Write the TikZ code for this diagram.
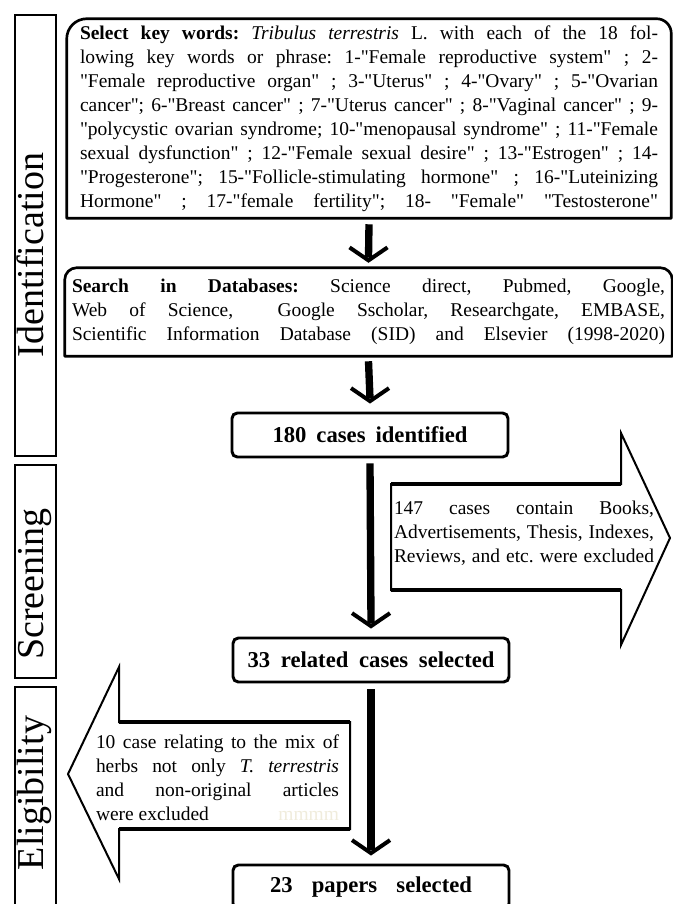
\documentclass[tikz,border=0pt]{standalone}
\usepackage{fontspec}
\setmainfont{Liberation Serif}[Ligatures=TeXOff]
\usetikzlibrary{calc}
\definecolor{faint}{RGB}{240,236,220}
\newcommand\mydownhead[2]{%
  \draw[vhead] ([shift={(-14.25pt,#2+9.75pt)}]#1) -- ([yshift=#2]#1) -- ([shift={(14.25pt,#2+9.75pt)}]#1);}
\begin{document}
\frenchspacing
\begin{tikzpicture}[x=0.75pt,y=-0.75pt,
  boxline/.style={line width=2pt, line join=round},
  sidebox/.style={draw, line width=1.5pt, anchor=north west, inner sep=0pt, minimum width=30.75pt},
  sidelabel/.style={rotate=90, anchor=base, font=\fontsize{28.5}{30}\selectfont, inner sep=0pt},
  body/.style={font=\fontsize{14.6}{18}\selectfont, inner sep=0pt, align=center},
  smallbox/.style={draw, line width=2.2pt, rounded corners=4pt, minimum width=207pt, minimum height=33pt, inner sep=0pt, font=\bfseries\fontsize{17}{20}\selectfont},
  shaft/.style={line width=5.5pt},
  vhead/.style={line width=3pt, line join=miter, line cap=butt},
  blockarrow/.style={line width=1.5pt, line join=miter},
  blockedge/.style={line width=3pt, line cap=butt},
]
\useasboundingbox (0,0) rectangle (673,904);

% side phase boxes
\node[sidebox, minimum height=330.75pt] (sid) at (14,14) {};
\node[sidebox, minimum height=159.75pt] (sscr) at (14,464) {};
\node[sidebox, minimum height=180pt] (selig) at (14,686) {};
\node[sidelabel] (lid) at (43,255) {Identification};
\node[sidelabel] (lscr) at (43,584) {Screening};
\node[sidelabel] (lelig) at (43,793) {Eligibility};

% box 1
\node[body, minimum width=453pt, minimum height=149.25pt] (b1) at (369,118.5) {%
\makebox[433.5pt][s]{\textbf{Select key words:} \textit{Tribulus terrestris} L. with each of the 18 fol-}\\
\makebox[433.5pt][s]{lowing key words or phrase: 1-"Female reproductive system" ; 2-}\\
\makebox[433.5pt][s]{"Female reproductive organ" ; 3-"Uterus" ; 4-"Ovary" ; 5-"Ovarian}\\
\makebox[433.5pt][s]{cancer"; 6-"Breast cancer" ; 7-"Uterus cancer" ; 8-"Vaginal cancer" ; 9-}\\
\makebox[433.5pt][s]{"polycystic ovarian syndrome; 10-"menopausal syndrome" ; 11-"Female}\\
\makebox[433.5pt][s]{sexual dysfunction" ; 12-"Female sexual desire" ; 13-"Estrogen" ; 14-}\\
\makebox[433.5pt][s]{"Progesterone"; 15-"Follicle-stimulating hormone" ; 16-"Luteinizing}\\
\makebox[433.5pt][s]{Hormone" ; 17-"female fertility"; 18- "Female" "Testosterone"}};
\draw[boxline] (b1.south west) -- ([yshift=-15pt]b1.north west)
  arc[start angle=180, end angle=90, radius=15pt] -- ([xshift=-11pt]b1.north east)
  arc[start angle=90, end angle=0, radius=11pt] -- (b1.south east) -- cycle;

% box 2
\node[body, minimum width=455.25pt, minimum height=66pt] (b2) at (368.5,312) {%
\makebox[444.75pt][s]{\textbf{Search in Databases:} Science direct, Pubmed, Google,}\\
\makebox[444.75pt][s]{Web of Science,\ \ Google Sscholar, Researchgate, EMBASE,}\\
\makebox[444.75pt][s]{Scientific Information Database (SID) and Elsevier (1998-2020)}};
\draw[boxline] (b2.south west) -- ([yshift=-9pt]b2.north west)
  arc[start angle=180, end angle=90, radius=9pt] -- ([xshift=-9pt]b2.north east)
  arc[start angle=90, end angle=0, radius=9pt] -- (b2.south east) -- cycle;

% small boxes
\node[smallbox] (b3) at (370,435) {\makebox[146.25pt][s]{180 cases identified}};
\node[smallbox] (b4) at (371,660) {\makebox[185.25pt][s]{33 related cases selected}};
\node[smallbox] (b5) at (371,887) {\makebox[151.5pt][s]{23 papers selected}};

% connectors
\draw[shaft] ([yshift=-4.5pt]b1.south) -- ([yshift=7.5pt]b2.north);
\mydownhead{b2.north}{5.5pt}
\draw[shaft] ([yshift=-3.75pt]b2.south) -- ([yshift=9.8pt]b3.north);
\mydownhead{b3.north}{7.8pt}
\draw[shaft] ([yshift=-3.75pt]b3.south) -- ([yshift=9.8pt]b4.north);
\mydownhead{b4.north}{7.8pt}
\draw[shaft] ([yshift=-4.5pt]b4.south) -- ([yshift=9.8pt]b5.north);
\mydownhead{b5.north}{7.8pt}

% right exclusion arrow
\draw[blockarrow] (391,484) -- (621,484) -- (621,433) -- (670,538) -- (621,645) -- (621,590) -- (391,590) -- cycle;
\draw[blockedge] (391,484) -- (621,484) (391,590) -- (621,590);
\node[body] (rnote) at (524,533) {%
\makebox[195pt][s]{147 cases contain Books,}\\
\makebox[195pt][s]{Advertisements, Thesis, Indexes,}\\
\makebox[195pt][s]{Reviews, and etc. were excluded}};

% left exclusion arrow
\draw[blockarrow] (350,722) -- (119,722) -- (119,667) -- (68,774) -- (119,879) -- (119,829) -- (350,829) -- cycle;
\draw[blockedge] (350,722) -- (119,722) (350,829) -- (119,829);
\node[body] (lnote) at (217.5,777.5) {%
\makebox[182.25pt][s]{10 case relating to the mix of}\\
\makebox[182.25pt][s]{herbs not only \textit{T. terrestris}}\\
\makebox[182.25pt][s]{and non-original articles}\\
\makebox[182.25pt][s]{were excluded\hfill{\color{faint}mmmm}}};
\end{tikzpicture}
\end{document}
